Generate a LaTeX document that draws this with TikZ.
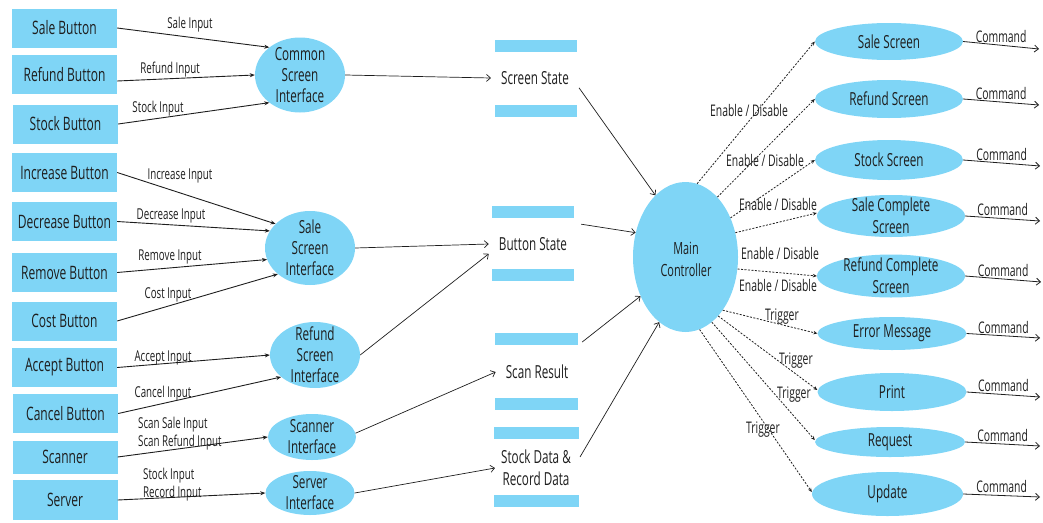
\documentclass[tikz,border=0pt]{standalone}
\usepackage{fontspec}
\setmainfont{Open Sans}[FakeStretch=0.65]
\usetikzlibrary{shapes.geometric,arrows.meta}
\definecolor{cb}{RGB}{127,213,246}
\definecolor{tx}{RGB}{30,30,30}
\begin{document}
\begin{tikzpicture}[x=1pt,y=-1pt,
 every node/.style={text=tx, inner sep=1pt},
 btn/.style={rectangle, fill=cb, minimum width=105pt, minimum height=39pt, font=\fontsize{18.5}{20}\selectfont},
 ifc/.style={ellipse, fill=cb, minimum width=90pt, minimum height=75pt, inner sep=0pt},
 ctext/.style={align=center, font=\fontsize{18}{21}\selectfont, inner sep=0pt},
 bar/.style={rectangle, fill=cb, minimum width=82pt, minimum height=12pt, inner sep=0pt},
 store/.style={align=center, font=\fontsize{18}{22}\selectfont, inner xsep=10pt, inner ysep=3pt},
 scr/.style={ellipse, fill=cb, minimum width=148pt, inner sep=0pt},
 lab/.style={font=\fontsize{15}{18}\selectfont, align=left, inner sep=0pt},
 elab/.style={font=\fontsize{16}{18}\selectfont, inner sep=0pt},
 inarr/.style={-{Stealth[length=5pt,width=4pt]}, line width=0.9pt, draw=tx},
 darr/.style={-{Straight Barb[length=4pt,width=7pt]}, line width=0.7pt, draw=tx},
 dsh/.style={-{Stealth[length=4pt,width=3.5pt]}, line width=0.8pt, dash pattern=on 2pt off 1.5pt, draw=tx},
 carr/.style={-{Straight Barb[length=4pt,width=7pt]}, line width=0.8pt, draw=tx}]
\useasboundingbox (0,0) rectangle (1043,522);

% buttons
\node[btn] (b1) at (64.5,28) {Sale Button};
\node[btn] (b2) at (64.5,74.5) {Refund Button};
\node[btn] (b3) at (65.5,124) {Stock Button};
\node[btn] (b4) at (64.5,172.5) {Increase Button};
\node[btn] (b5) at (64.5,221.5) {Decrease Button};
\node[btn] (b6) at (64.5,272.5) {Remove Button};
\node[btn] (b7) at (64.5,321) {Cost Button};
\node[btn] (b8) at (64.5,367.5) {Accept Button};
\node[btn] (b9) at (65.5,413.5) {Cancel Button};
\node[btn, minimum height=33pt] (b10) at (65,457) {Scanner};
\node[btn, minimum height=40pt] (b11) at (65,500) {Server};

% interfaces
\node[ifc, label={[ctext]center:Common\\Screen\\Interface}] (csi) at (300,75) {};
\node[ifc, minimum height=74pt] (ssi) at (310,248) {};
\node[ctext] (ssit) at (310,248) {Sale\\Screen\\Interface};
\node[ifc, minimum height=66pt] (rsi) at (315,355) {};
\node[ctext] (rsit) at (315,355) {Refund\\Screen\\Interface};
\node[ifc, minimum width=88pt, minimum height=46pt] (sci) at (312,437) {};
\node[ctext] (scit) at (312,437) {Scanner\\Interface};
\node[ifc, minimum width=89pt, minimum height=44pt] (svi) at (310,493) {};
\node[ctext] (svit) at (310,493) {Server\\Interface};

% data stores
\node[bar] (ss1) at (535.5,46) {};
\node[store] (ss) at (535,78) {Screen State};
\node[bar] (ss2) at (535.5,110.5) {};
\node[bar] (bs1) at (533,211.5) {};
\node[store] (bs) at (533,244) {Button State};
\node[bar] (bs2) at (533,274.5) {};
\node[bar, minimum width=83pt] (sr1) at (536.5,339) {};
\node[store] (sr) at (537,372) {Scan Result};
\node[bar, minimum width=83pt] (sr2) at (536.5,404) {};
\node[bar, minimum width=85pt] (sd1) at (536.5,433) {};
\node[store, inner xsep=6pt] (sd) at (536,468) {Stock Data \&\\Record Data};
\node[bar, minimum width=85pt] (sd2) at (536.5,501) {};

% main controller
\node[ellipse, fill=cb, minimum width=105pt, minimum height=150pt, inner sep=0pt] (mc) at (685.5,257) {};
\node[ctext, font=\fontsize{16.8}{22}\selectfont] (mct) at (686,259) {Main\\Controller};

% screens
\node[scr, minimum height=37pt] (s1) at (889,41.5) {};
\node[ctext] (s1t) at (889,41.5) {Sale Screen};
\node[scr, minimum height=38pt] (s2) at (889,99) {};
\node[ctext] (s2t) at (889,99) {Refund Screen};
\node[scr, minimum height=40pt] (s3) at (889,160) {};
\node[ctext] (s3t) at (889,160) {Stock Screen};
\node[scr, minimum height=42pt] (s4) at (891,216) {};
\node[ctext, font=\fontsize{18}{22}\selectfont] (s4t) at (891,216) {Sale Complete\\Screen};
\node[scr, minimum height=43pt] (s5) at (891,276) {};
\node[ctext, font=\fontsize{18}{22}\selectfont] (s5t) at (891,276) {Refund Complete\\Screen};
\node[scr, minimum width=149pt, minimum height=33pt] (s6) at (892,333.5) {};
\node[ctext] (s6t) at (892,333.5) {Error Message};
\node[scr, minimum width=149pt, minimum height=38pt] (s7) at (892,392) {};
\node[ctext] (s7t) at (892,392) {Print};
\node[scr, minimum width=150pt, minimum height=30pt] (s8) at (890,442) {};
\node[ctext] (s8t) at (890,442) {Request};
\node[scr, minimum width=151pt, minimum height=44pt] (s9) at (887.5,494) {};
\node[ctext] (s9t) at (887.5,494) {Update};

% input arrows
\draw[inarr] (b1.east) -- (csi.138);
\draw[inarr] ([yshift=-6.5pt]b2.east) -- (csi.180);
\draw[inarr] (b3.east) -- (csi.222);
\draw[inarr] (b4.east) -- (ssi.145);
\draw[inarr] (b5.east) -- (ssi.157);
\draw[inarr] (b6.east) -- (ssi.195);
\draw[inarr] (b7.east) -- (ssi.219);
\draw[inarr] (b8.east) -- (rsi.180);
\draw[inarr] (b9.east) -- (rsi.213);
\draw[inarr] (b10.east) -- (sci.180);
\draw[inarr] (b11.east) -- (svi.180);

% input labels
\node[lab] (l1) at (190,25) {Sale Input};
\node[lab] (l2) at (170,70) {Refund Input};
\node[lab] (l3) at (158,109) {Stock Input};
\node[lab] (l4) at (180,176) {Increase Input};
\node[lab] (l5) at (171,216) {Decrease Input};
\node[lab] (l6) at (170,257) {Remove Input};
\node[lab] (l7) at (168,295) {Cost Input};
\node[lab] (l8) at (163,358) {Accept Input};
\node[lab] (l9) at (163,394) {Cancel Input};
\node[lab, anchor=west] (l10) at (138,434) {Scan Sale Input\\Scan Refund Input};
\node[lab, anchor=west] (l11) at (143,485) {Stock Input\\Record Input};

% interface -> stores
\draw[darr] (csi.0) -- (ss.west);
\draw[darr] (ssi.east) -- (bs.west);
\draw[darr] (rsi.east) -- (bs.south west);
\draw[darr] (sci.5) -- (sr.west);
\draw[darr] (svi.east) -- (sd.west);

% stores -> controller
\draw[darr] (ss.south east) -- (mc.116);
\draw[darr] ([xshift=4pt,yshift=10pt]bs.north east) -- (mc.154);
\draw[darr] ([xshift=4pt,yshift=-3pt]sr1.east) -- (mc.221);
\draw[darr] ([xshift=3pt,yshift=11pt]sd.east) -- (mc.248);

% controller -> screens
\draw[dsh] (mc.81.5) -- (s1.west);
\draw[dsh] (mc.62) -- (s2.west);
\draw[dsh] (mc.41.5) -- (s3.west);
\draw[dsh] (mc.26) -- ([yshift=3pt]s4.west);
\draw[dsh] (mc.-13) -- (s5.west);
\draw[dsh] (mc.-55) -- (s6.west);
\draw[dsh] (mc.-61) -- ([yshift=2pt]s7.west);
\draw[dsh] (mc.-68.5) -- ([yshift=2pt]s8.west);
\draw[dsh] (mc.-79) -- ([yshift=2pt]s9.west);

\node[elab] (e1) at (749,110) {Enable / Disable};
\node[elab] (e2) at (765,160) {Enable / Disable};
\node[elab] (e3) at (778,204) {Enable / Disable};
\node[elab] (e4) at (780,253) {Enable / Disable};
\node[elab] (e5) at (778,285) {Enable / Disable};
\node[elab] (t1) at (782,317) {Trigger};
\node[elab] (t2) at (796,361) {Trigger};
\node[elab] (t3) at (794,395) {Trigger};
\node[elab] (t4) at (763,430) {Trigger};

% commands
\coordinate (c1) at (1039,49);
\coordinate (c2) at (1039,105);
\coordinate (c3) at (1040,166);
\coordinate (c4) at (1040,221);
\coordinate (c5) at (1041,282);
\coordinate (c6) at (1040,338);
\coordinate (c7) at (1040,397);
\coordinate (c8) at (1040,446);
\coordinate (c9) at (1040,497);
\draw[carr] (s1.east) -- node[elab, above=2pt]{Command} (c1);
\draw[carr] (s2.east) -- node[elab, above=2pt]{Command} (c2);
\draw[carr] (s3.east) -- node[elab, above=2pt]{Command} (c3);
\draw[carr] (s4.east) -- node[elab, above=2pt]{Command} (c4);
\draw[carr] (s5.east) -- node[elab, above=2pt]{Command} (c5);
\draw[carr] (s6.east) -- node[elab, above=2pt]{Command} (c6);
\draw[carr] (s7.east) -- node[elab, above=2pt]{Command} (c7);
\draw[carr] (s8.east) -- node[elab, above=2pt]{Command} (c8);
\draw[carr] (s9.east) -- node[elab, above=2pt]{Command} (c9);
\end{tikzpicture}
\end{document}
